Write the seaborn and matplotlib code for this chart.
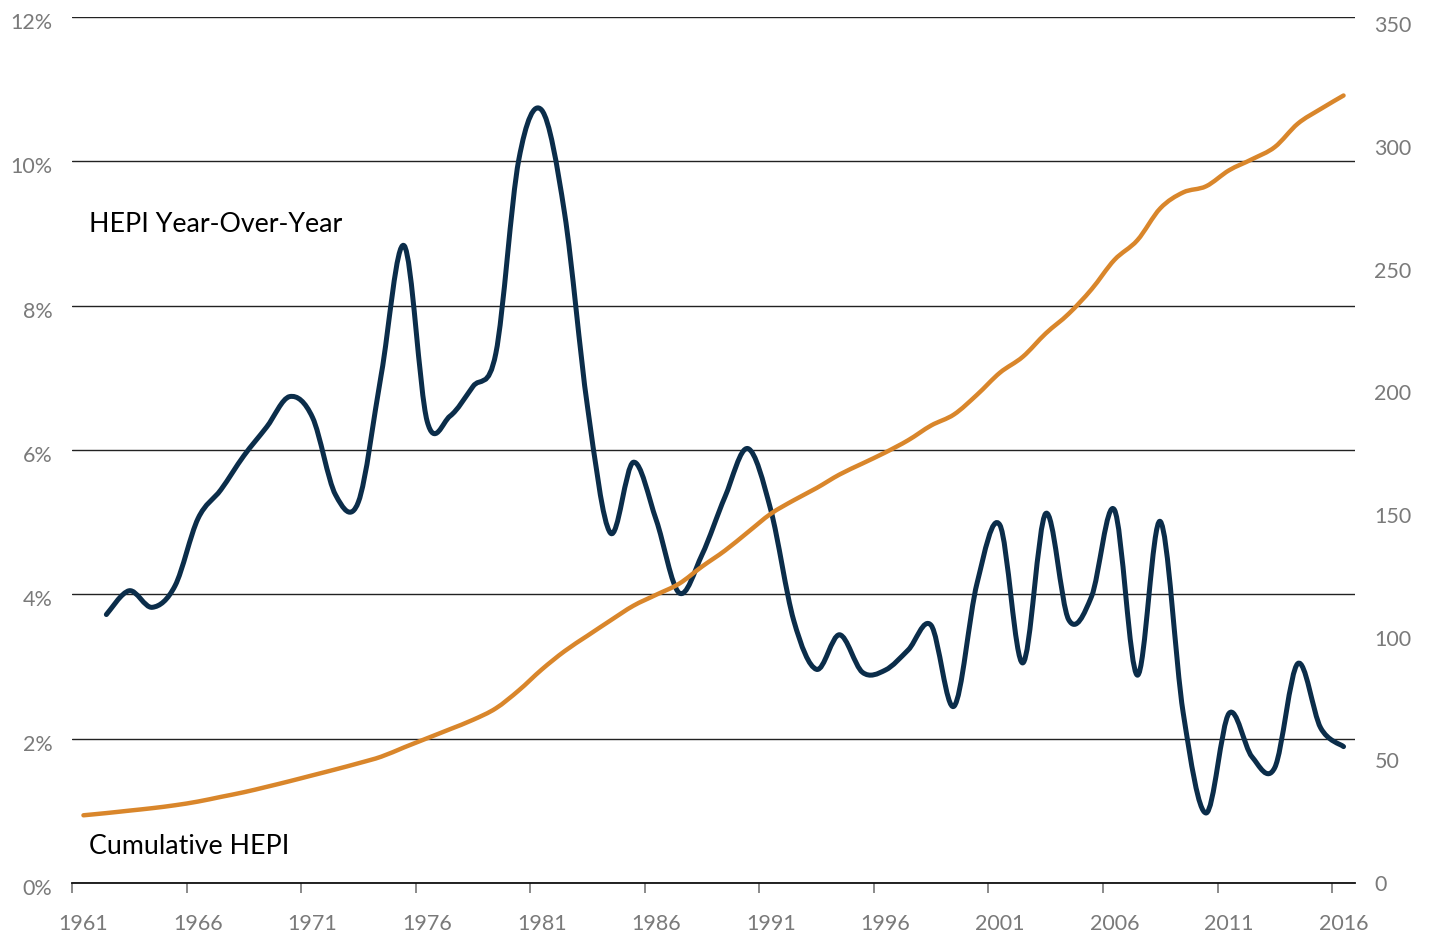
import matplotlib
matplotlib.use('Agg')
import matplotlib.pyplot as plt
import matplotlib.transforms as mtransforms
from matplotlib.path import Path
from matplotlib.patches import PathPatch
import seaborn as sns
import numpy as np
import pandas as pd

# Data
YEARS = list(range(1961, 2017))
CUMULATIVE = [27.6, 28.5, 29.5, 30.5, 31.7, 33.2, 35.1, 37.0, 39.2, 41.5,
              43.9, 46.3, 48.8, 51.5, 55.3, 59.0, 62.7, 66.5, 71.2, 78.5,
              87.0, 94.5, 100.8, 107.0, 113.0, 117.5, 122.0, 129.0, 135.5, 143.0,
              150.5, 156.0, 161.0, 166.5, 171.0, 175.5, 180.5, 186.5, 191.0, 199.0,
              208.0, 214.5, 224.0, 232.0, 242.0, 254.0, 262.0, 275.0, 281.5, 284.0,
              290.5, 295.0, 300.0, 309.5, 315.5, 321.0]

YOY_YEARS = list(range(1962, 2017))
YOY_PCT = [3.72, 4.05, 3.82, 4.12, 5.05, 5.45, 5.92, 6.32, 6.74, 6.45,
           5.38, 5.28, 7.05, 8.83, 6.40, 6.47, 6.88, 7.34, 10.02, 10.71,
           9.28, 6.60, 4.85, 5.83, 5.03, 4.02, 4.55, 5.35, 6.02, 5.17,
           3.64, 2.96, 3.44, 2.92, 2.95, 3.23, 3.57, 2.45, 4.15, 4.96,
           3.05, 5.12, 3.65, 3.97, 5.17, 2.88, 5.01, 2.36, 0.97, 2.35,
           1.75, 1.60, 3.04, 2.15, 1.89]

LEFT_TICKS = [0, 2, 4, 6, 8, 10, 12]
RIGHT_TICKS = [0, 50, 100, 150, 200, 250, 300, 350]
XTICK_YEARS = list(range(1961, 2017, 5))

NAVY = '#0b2d4a'
ORANGE = '#d9862b'
GRAY = '#7a7a7a'


def smooth_path(x, y):
    """Catmull-Rom style bezier through the points (like a 'smoothed line' chart)."""
    pts = np.column_stack([x, y])
    n = len(pts)
    verts = [pts[0]]
    codes = [Path.MOVETO]
    for i in range(n - 1):
        p0 = pts[max(i - 1, 0)]
        p1 = pts[i]
        p2 = pts[i + 1]
        p3 = pts[min(i + 2, n - 1)]
        verts += [p1 + (p2 - p0) / 6, p2 - (p3 - p1) / 6, p2]
        codes += [Path.CURVE4] * 3
    return Path(verts, codes)


def smooth_lines(ax):
    # swap seaborn's straight segments for a smoothed curve
    for line in list(ax.lines):
        patch = PathPatch(smooth_path(line.get_xdata(), line.get_ydata()),
                          facecolor='none', edgecolor=line.get_color(),
                          lw=line.get_linewidth(), capstyle='round',
                          joinstyle='round', zorder=line.get_zorder())
        ax.add_patch(patch)
        line.remove()


def main():
    sns.set_theme(style='white')
    plt.rcParams['font.family'] = ['Lato', 'DejaVu Sans']

    # points sit in the middle of each year's slot
    df_yoy = pd.DataFrame({'year': np.array(YOY_YEARS) + 0.5, 'pct': YOY_PCT})
    df_cum = pd.DataFrame({'year': np.array(YEARS) + 0.5, 'index': CUMULATIVE})

    fig = plt.figure(figsize=(14.34, 9.38), dpi=100)
    ax = fig.add_axes([72 / 1434, 55 / 938, 1283 / 1434, 866 / 938])
    ax2 = ax.twinx()

    sns.lineplot(data=df_yoy, x='year', y='pct', ax=ax, color=NAVY, lw=3.6)
    sns.lineplot(data=df_cum, x='year', y='index', ax=ax2, color=ORANGE, lw=3.2)
    smooth_lines(ax)
    smooth_lines(ax2)

    # Left axis (percent) with gridlines
    ax.set_xlim(1961, 2017)
    ax.set_ylim(0, 12)
    ax.set_yticks(LEFT_TICKS)
    ax.set_yticklabels([f'{v}%' for v in LEFT_TICKS])
    ax.yaxis.grid(True, color='#222222', lw=1.0)
    ax.xaxis.grid(False)
    ax.set_axisbelow(True)
    ax.tick_params(axis='y', length=0, pad=14, labelsize=15.5, labelcolor=GRAY)
    # labels sit a touch below their gridlines in the original
    shift = mtransforms.ScaledTranslation(0, -4 / 100, fig.dpi_scale_trans)
    for lbl in ax.get_yticklabels():
        lbl.set_transform(lbl.get_transform() + shift)

    # Right axis (index)
    ax2.set_ylim(0, 353)
    ax2.set_yticks(RIGHT_TICKS)
    ax2.set_yticklabels([str(v) for v in RIGHT_TICKS])
    ax2.grid(False)
    ax2.tick_params(axis='y', length=0, pad=14, labelsize=15.5, labelcolor=GRAY)

    # X axis: tick marks on slot boundaries, labels centred in the slot
    ax.set_xticks(XTICK_YEARS)
    ax.set_xticklabels([''] * len(XTICK_YEARS))
    ax.set_xticks(np.array(XTICK_YEARS) + 0.5, minor=True)
    ax.set_xticklabels([str(y) for y in XTICK_YEARS], minor=True)
    ax.tick_params(axis='x', which='major', bottom=True, direction='out',
                   length=7, width=1.2, color='#777777')
    ax.tick_params(axis='x', which='minor', bottom=True, length=0, pad=22,
                   labelsize=15.5, labelcolor=GRAY)

    for a in (ax, ax2):
        a.set_xlabel('')
        a.set_ylabel('')
        for s in a.spines.values():
            s.set_visible(False)
    ax.spines['bottom'].set_visible(True)
    ax.spines['bottom'].set_color('#111111')
    ax.spines['bottom'].set_linewidth(1.3)

    # Series labels
    ax.text(1961.74, 9.12, 'HEPI Year-Over-Year', fontsize=19.3, color='black', va='center')
    ax.text(1961.74, 0.51, 'Cumulative HEPI', fontsize=19.3, color='black', va='center')

    fig.savefig('out.png', dpi=100)


if __name__ == "__main__":
    main()
